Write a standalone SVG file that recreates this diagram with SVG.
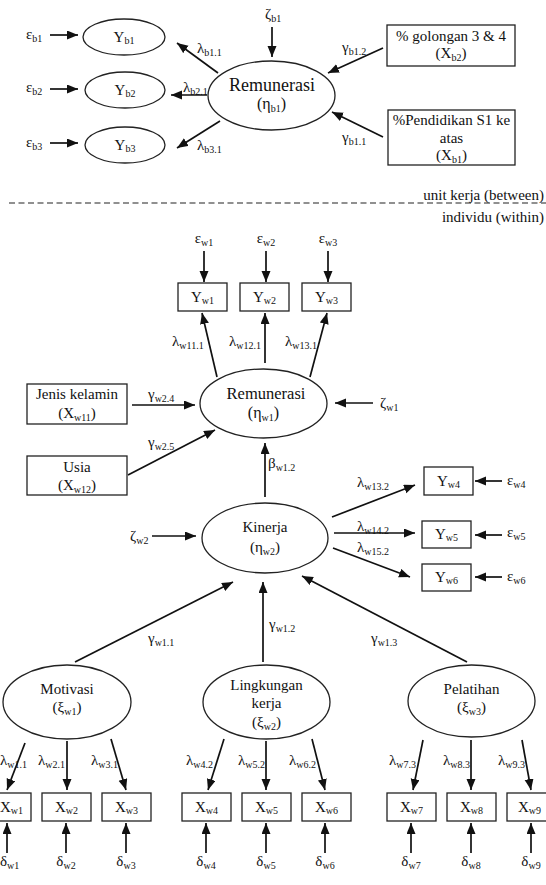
<svg xmlns="http://www.w3.org/2000/svg" width="546" height="885" viewBox="0 0 546 885" font-family="'Liberation Serif', 'DejaVu Serif', serif">
<style>
.t{font-family:'Liberation Serif','DejaVu Serif',serif;font-size:15px;fill:#111}
.m{text-anchor:middle}
.e{text-anchor:end}
.s{font-size:10px}
.n{fill:#fff;stroke:#222;stroke-width:1.3}
.c{stroke:#111;stroke-width:1.7;fill:none;marker-end:url(#ah)}
.d{stroke:#222;stroke-width:1.2;stroke-dasharray:6 3.5;fill:none}
</style>
<defs>
<marker id="ah" markerUnits="userSpaceOnUse" markerWidth="12" markerHeight="10" refX="11" refY="4.5" orient="auto"><path d="M0,0 L11,4.5 L0,9 z" fill="#111"/></marker>
</defs>
<rect width="546" height="885" fill="#fff"/>

<g id="connectors">
<line class="c" x1="50" y1="35" x2="78" y2="35"/>
<line class="c" x1="50" y1="89" x2="78" y2="89"/>
<line class="c" x1="50" y1="143" x2="78" y2="143"/>
<line class="c" x1="272" y1="27" x2="272" y2="57"/>
<line class="c" x1="218" y1="73" x2="177" y2="43"/>
<line class="c" x1="207" y1="95" x2="171" y2="95"/>
<line class="c" x1="220" y1="121" x2="177" y2="148"/>
<line class="c" x1="383" y1="48" x2="328" y2="73"/>
<line class="c" x1="383" y1="137" x2="332" y2="112"/>
<line class="d" x1="9" y1="203" x2="546" y2="203"/>
<line class="c" x1="204" y1="251" x2="204" y2="282"/>
<line class="c" x1="266" y1="251" x2="266" y2="282"/>
<line class="c" x1="328" y1="251" x2="328" y2="282"/>
<line class="c" x1="217" y1="377" x2="202" y2="313"/>
<line class="c" x1="265" y1="363" x2="265" y2="313"/>
<line class="c" x1="310" y1="377" x2="327" y2="313"/>
<line class="c" x1="373" y1="403" x2="335" y2="403"/>
<line class="c" x1="132" y1="405" x2="195" y2="405"/>
<line class="c" x1="128" y1="475" x2="215" y2="430"/>
<line class="c" x1="265" y1="497" x2="265" y2="443"/>
<line class="c" x1="152" y1="536" x2="196" y2="536"/>
<line class="c" x1="332" y1="517" x2="415" y2="485"/>
<line class="c" x1="334" y1="533" x2="415" y2="533"/>
<line class="c" x1="333" y1="548" x2="410" y2="577"/>
<line class="c" x1="502" y1="481" x2="475" y2="481"/>
<line class="c" x1="502" y1="535" x2="475" y2="535"/>
<line class="c" x1="502" y1="577" x2="475" y2="577"/>
<line class="c" x1="75" y1="662" x2="233" y2="582"/>
<line class="c" x1="263" y1="662" x2="263" y2="582"/>
<line class="c" x1="467" y1="662" x2="302" y2="576"/>
<line class="c" x1="25" y1="743" x2="7" y2="790"/>
<line class="c" x1="67" y1="741" x2="67" y2="790"/>
<line class="c" x1="111" y1="739" x2="126" y2="790"/>
<line class="c" x1="224" y1="739" x2="208" y2="790"/>
<line class="c" x1="266" y1="741" x2="266" y2="790"/>
<line class="c" x1="312" y1="739" x2="325" y2="790"/>
<line class="c" x1="423" y1="740" x2="413" y2="790"/>
<line class="c" x1="471" y1="740" x2="471" y2="790"/>
<line class="c" x1="522" y1="740" x2="531" y2="790"/>
<line class="c" x1="7" y1="853" x2="7" y2="823"/>
<line class="c" x1="66" y1="853" x2="66" y2="823"/>
<line class="c" x1="126" y1="853" x2="126" y2="823"/>
<line class="c" x1="206" y1="853" x2="206" y2="823"/>
<line class="c" x1="266" y1="853" x2="266" y2="823"/>
<line class="c" x1="325" y1="853" x2="325" y2="823"/>
<line class="c" x1="411" y1="853" x2="411" y2="823"/>
<line class="c" x1="471" y1="853" x2="471" y2="823"/>
<line class="c" x1="531" y1="853" x2="531" y2="823"/>
</g>

<g id="labels" class="t">
<text x="26" y="39">ε<tspan class="s" dy="3">b1</tspan></text>
<text x="26" y="92">ε<tspan class="s" dy="3">b2</tspan></text>
<text x="26" y="147">ε<tspan class="s" dy="3">b3</tspan></text>
<text x="265" y="19">ζ<tspan class="s" dy="3">b1</tspan></text>
<text x="197" y="53">λ<tspan class="s" dy="3">b1.1</tspan></text>
<text x="183" y="92">λ<tspan class="s" dy="3">b2.1</tspan></text>
<text x="197" y="150">λ<tspan class="s" dy="3">b3.1</tspan></text>
<text x="342" y="52">γ<tspan class="s" dy="3">b1.2</tspan></text>
<text x="342" y="142">γ<tspan class="s" dy="3">b1.1</tspan></text>
<text class="e" x="544" y="200">unit kerja (between)</text>
<text class="e" x="544" y="222">individu (within)</text>
<text class="m" x="204" y="243">ε<tspan class="s" dy="3">w1</tspan></text>
<text class="m" x="266" y="243">ε<tspan class="s" dy="3">w2</tspan></text>
<text class="m" x="328" y="243">ε<tspan class="s" dy="3">w3</tspan></text>
<text x="172" y="346">λ<tspan class="s" dy="3">w11.1</tspan></text>
<text x="229" y="346">λ<tspan class="s" dy="3">w12.1</tspan></text>
<text x="285" y="346">λ<tspan class="s" dy="3">w13.1</tspan></text>
<text x="380" y="408">ζ<tspan class="s" dy="3">w1</tspan></text>
<text x="148" y="399">γ<tspan class="s" dy="3">w2.4</tspan></text>
<text x="148" y="447">γ<tspan class="s" dy="3">w2.5</tspan></text>
<text x="268" y="468">β<tspan class="s" dy="3">w1.2</tspan></text>
<text x="130" y="541">ζ<tspan class="s" dy="3">w2</tspan></text>
<text x="357" y="487">λ<tspan class="s" dy="3">w13.2</tspan></text>
<text x="357" y="531">λ<tspan class="s" dy="3">w14.2</tspan></text>
<text x="357" y="552">λ<tspan class="s" dy="3">w15.2</tspan></text>
<text x="507" y="485">ε<tspan class="s" dy="3">w4</tspan></text>
<text x="507" y="537">ε<tspan class="s" dy="3">w5</tspan></text>
<text x="507" y="581">ε<tspan class="s" dy="3">w6</tspan></text>
<text x="148" y="643">γ<tspan class="s" dy="3">w1.1</tspan></text>
<text x="269" y="629">γ<tspan class="s" dy="3">w1.2</tspan></text>
<text x="371" y="643">γ<tspan class="s" dy="3">w1.3</tspan></text>
<text x="0" y="765">λ<tspan class="s" dy="3">w1.1</tspan></text>
<text x="38" y="765">λ<tspan class="s" dy="3">w2.1</tspan></text>
<text x="91" y="765">λ<tspan class="s" dy="3">w3.1</tspan></text>
<text x="186" y="765">λ<tspan class="s" dy="3">w4.2</tspan></text>
<text x="238" y="765">λ<tspan class="s" dy="3">w5.2</tspan></text>
<text x="289" y="765">λ<tspan class="s" dy="3">w6.2</tspan></text>
<text x="389" y="765">λ<tspan class="s" dy="3">w7.3</tspan></text>
<text x="443" y="765">λ<tspan class="s" dy="3">w8.3</tspan></text>
<text x="498" y="765">λ<tspan class="s" dy="3">w9.3</tspan></text>
<text x="0" y="866">δ<tspan class="s" dy="3">w1</tspan></text>
<text class="m" x="66" y="866">δ<tspan class="s" dy="3">w2</tspan></text>
<text class="m" x="126" y="866">δ<tspan class="s" dy="3">w3</tspan></text>
<text class="m" x="206" y="866">δ<tspan class="s" dy="3">w4</tspan></text>
<text class="m" x="266" y="866">δ<tspan class="s" dy="3">w5</tspan></text>
<text class="m" x="325" y="866">δ<tspan class="s" dy="3">w6</tspan></text>
<text class="m" x="411" y="866">δ<tspan class="s" dy="3">w7</tspan></text>
<text class="m" x="471" y="866">δ<tspan class="s" dy="3">w8</tspan></text>
<text class="m" x="531" y="866">δ<tspan class="s" dy="3">w9</tspan></text>
</g>

<g id="Yb1" class="t"><ellipse class="n" cx="124" cy="37" rx="41" ry="18"/><text class="m" x="124" y="42">Y<tspan class="s" dy="2">b1</tspan></text></g>
<g id="Yb2" class="t"><ellipse class="n" cx="125" cy="90" rx="40" ry="18"/><text class="m" x="125" y="95">Y<tspan class="s" dy="2">b2</tspan></text></g>
<g id="Yb3" class="t"><ellipse class="n" cx="125" cy="145" rx="40" ry="18"/><text class="m" x="125" y="150">Y<tspan class="s" dy="2">b3</tspan></text></g>
<g id="eta_b1" class="t"><ellipse class="n" cx="271.5" cy="95.5" rx="63.5" ry="34.5"/><text class="m" x="272" y="91" font-size="18">Remunerasi</text><text class="m" x="271.5" y="109" font-size="16">(η<tspan class="s" dy="3">b1</tspan><tspan dy="-3">)</tspan></text></g>
<g id="Xb2" class="t"><rect class="n" x="387" y="25" width="128" height="41"/><text class="m" x="451" y="41">% golongan 3 &amp; 4</text><text class="m" x="451" y="58">(X<tspan class="s" dy="3">b2</tspan><tspan dy="-3">)</tspan></text></g>
<g id="Xb1" class="t"><rect class="n" x="388" y="110" width="127" height="55"/><text class="m" x="451.5" y="125">%Pendidikan S1 ke</text><text class="m" x="451.5" y="143">atas</text><text class="m" x="451.5" y="160">(X<tspan class="s" dy="3">b1</tspan><tspan dy="-3">)</tspan></text></g>

<g id="Yw1" class="t"><rect class="n" x="178" y="283" width="49" height="28"/><text class="m" x="202.5" y="302">Y<tspan class="s" dy="2">w1</tspan></text></g>
<g id="Yw2" class="t"><rect class="n" x="240" y="283" width="49" height="28"/><text class="m" x="264.5" y="302">Y<tspan class="s" dy="2">w2</tspan></text></g>
<g id="Yw3" class="t"><rect class="n" x="302" y="283" width="49" height="28"/><text class="m" x="326.5" y="302">Y<tspan class="s" dy="2">w3</tspan></text></g>
<g id="eta_w1" class="t"><ellipse class="n" cx="263.5" cy="403.5" rx="63.5" ry="34.5"/><text class="m" x="266" y="399" font-size="16.5">Remunerasi</text><text class="m" x="263.5" y="418" font-size="16">(η<tspan class="s" dy="3">w1</tspan><tspan dy="-3">)</tspan></text></g>
<g id="Xw11" class="t"><rect class="n" x="27" y="384" width="100" height="40"/><text class="m" x="77" y="399">Jenis kelamin</text><text class="m" x="77" y="418">(X<tspan class="s" dy="3">w11</tspan><tspan dy="-3">)</tspan></text></g>
<g id="Xw12" class="t"><rect class="n" x="27" y="456" width="100" height="39"/><text class="m" x="77" y="472">Usia</text><text class="m" x="77" y="490">(X<tspan class="s" dy="3">w12</tspan><tspan dy="-3">)</tspan></text></g>
<g id="eta_w2" class="t"><ellipse class="n" cx="265" cy="538" rx="63" ry="35"/><text class="m" x="265" y="532">Kinerja</text><text class="m" x="265" y="552">(η<tspan class="s" dy="3">w2</tspan><tspan dy="-3">)</tspan></text></g>
<g id="Yw4" class="t"><rect class="n" x="424" y="467" width="49" height="28"/><text class="m" x="448.5" y="486">Y<tspan class="s" dy="2">w4</tspan></text></g>
<g id="Yw5" class="t"><rect class="n" x="422" y="521" width="49" height="27"/><text class="m" x="446.5" y="539">Y<tspan class="s" dy="2">w5</tspan></text></g>
<g id="Yw6" class="t"><rect class="n" x="422" y="564" width="49" height="27"/><text class="m" x="446.5" y="582">Y<tspan class="s" dy="2">w6</tspan></text></g>
<g id="xi_w1" class="t"><ellipse class="n" cx="67" cy="702" rx="64" ry="37"/><text class="m" x="67" y="694">Motivasi</text><text class="m" x="67" y="712">(ξ<tspan class="s" dy="3">w1</tspan><tspan dy="-3">)</tspan></text></g>
<g id="xi_w2" class="t"><ellipse class="n" cx="266.5" cy="702" rx="63.5" ry="37"/><text class="m" x="266.5" y="690">Lingkungan</text><text class="m" x="266.5" y="708">kerja</text><text class="m" x="266.5" y="727">(ξ<tspan class="s" dy="3">w2</tspan><tspan dy="-3">)</tspan></text></g>
<g id="xi_w3" class="t"><ellipse class="n" cx="471.5" cy="701" rx="63.5" ry="36"/><text class="m" x="471.5" y="694">Pelatihan</text><text class="m" x="471.5" y="712">(ξ<tspan class="s" dy="3">w3</tspan><tspan dy="-3">)</tspan></text></g>
<g id="Xw1" class="t"><rect class="n" x="-18" y="793" width="49" height="28"/><text x="0" y="812">X<tspan class="s" dy="2">w1</tspan></text></g>
<g id="Xw2" class="t"><rect class="n" x="42" y="793" width="49" height="28"/><text class="m" x="66.5" y="812">X<tspan class="s" dy="2">w2</tspan></text></g>
<g id="Xw3" class="t"><rect class="n" x="102" y="793" width="49" height="28"/><text class="m" x="126.5" y="812">X<tspan class="s" dy="2">w3</tspan></text></g>
<g id="Xw4" class="t"><rect class="n" x="182" y="793" width="49" height="28"/><text class="m" x="206.5" y="812">X<tspan class="s" dy="2">w4</tspan></text></g>
<g id="Xw5" class="t"><rect class="n" x="242" y="793" width="49" height="28"/><text class="m" x="266.5" y="812">X<tspan class="s" dy="2">w5</tspan></text></g>
<g id="Xw6" class="t"><rect class="n" x="302" y="793" width="49" height="28"/><text class="m" x="326.5" y="812">X<tspan class="s" dy="2">w6</tspan></text></g>
<g id="Xw7" class="t"><rect class="n" x="387" y="793" width="49" height="28"/><text class="m" x="411.5" y="812">X<tspan class="s" dy="2">w7</tspan></text></g>
<g id="Xw8" class="t"><rect class="n" x="447" y="793" width="49" height="28"/><text class="m" x="471.5" y="812">X<tspan class="s" dy="2">w8</tspan></text></g>
<g id="Xw9" class="t"><rect class="n" x="507" y="793" width="49" height="28"/><text class="m" x="529.5" y="812">X<tspan class="s" dy="2">w9</tspan></text></g>
</svg>
